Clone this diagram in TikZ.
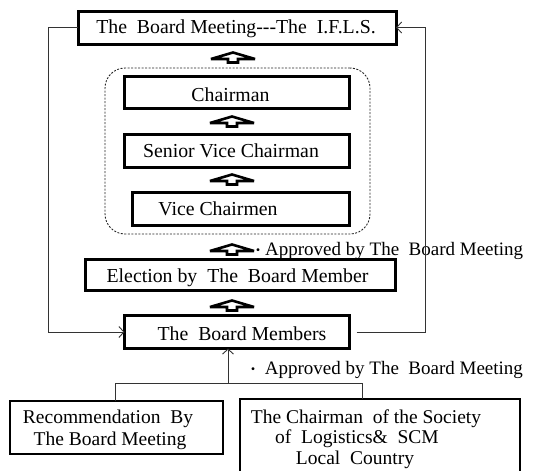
\documentclass[tikz,border=0pt]{standalone}
\usepackage{fontspec}
\setmainfont{Liberation Serif}
\newfontfamily\cjk{Noto Sans CJK JP}
\usetikzlibrary{arrows.meta,calc}
\begin{document}
\begin{tikzpicture}[x=1pt,y=-1pt,
 box/.style={draw,line width=3pt,inner sep=0pt,outer sep=0pt},
 lbox/.style={draw,line width=2.2pt,inner sep=0pt,outer sep=0pt},
 grpbox/.style={draw=black!85,line width=0.9pt,dash pattern=on 2pt off 1.5pt,rounded corners=20pt,inner sep=0pt},
 txt/.style={font=\fontsize{19.8}{21}\selectfont,inner sep=0pt,anchor=base},
 atxt/.style={font=\fontsize{19}{21}\selectfont,inner sep=0pt,anchor=base west},
 btxt/.style={font=\fontsize{19.5}{21}\selectfont,inner sep=0pt,anchor=base},
 conn/.style={line width=0.9pt,draw=black!80},
 tip/.style={-{Straight Barb[length=5pt,width=11pt,line width=0.9pt]}},
 uparr/.pic={\draw[line width=2.6pt,fill=white,line join=miter,miter limit=6] (0,0.5) -- (22,7) -- (5,7) -- (5,10.5) -- (-5,10.5) -- (-5,7) -- (-22,7) -- cycle;}
]
\useasboundingbox (0,0) rectangle (533,471);
% boxes
\node[box,minimum width=318pt,minimum height=33pt] (top) at (237,27.5) {};
\node[grpbox,minimum width=265pt,minimum height=166pt] (grp) at (237.5,151) {};
\node[box,minimum width=225pt,minimum height=32pt] (ch) at (237,92.5) {};
\node[box,minimum width=225pt,minimum height=33pt] (svc) at (237,151) {};
\node[box,minimum width=217pt,minimum height=33pt] (vc) at (241,209) {};
\node[box,minimum width=310pt,minimum height=31pt] (el) at (240.5,275) {};
\node[box,minimum width=225pt,minimum height=33pt] (bm) at (237,332) {};
\node[lbox,minimum width=213pt,minimum height=53pt] (lb) at (116.5,427.5) {};
\node[lbox,minimum width=280pt,minimum height=76pt] (rb) at (380,437) {};
% texts
\node[txt] (ttop) at (236,33) {The~~Board Meeting-{}-{}-The~~I.F.L.S.};
\node[txt] (tch) at (230.5,101) {Chairman};
\node[txt] (tsvc) at (231,157) {Senior Vice Chairman};
\node[txt] (tvc) at (218,215) {Vice Chairmen};
\node[txt] (tel) at (237.5,282) {Election by~~The~~Board Member};
\node[txt] (tbm) at (242,340) {The~~Board Members};
\node[atxt] (ap1) at (251,255) {{\cjk\fontsize{14}{14}\selectfont ・}Approved by The~~Board Meeting};
\node[atxt] (ap2) at (246,374) {{\cjk\fontsize{14}{14}\selectfont ・} Approved by The~~Board Meeting};
\node[btxt] (tl1) at (108,423) {Recommendation~~By};
\node[btxt] (tl2) at (110,445) {The Board Meeting};
\node[btxt] (tr1) at (366,423) {The Chairman~~of the Society};
\node[btxt] (tr2) at (357,443) {of~~Logistics\&~~SCM};
\node[btxt] (tr3) at (355,464) {Local~~Country};
% block arrows
\pic at (233,52) {uparr};
\pic at (232,116) {uparr};
\pic at (232,174) {uparr};
\pic at (232,244) {uparr};
\pic at (232,300) {uparr};
% connectors
\coordinate (L) at (48,0);
\coordinate (R) at (425,0);
\draw[conn,tip] (top.west) -- (top.west -| L) |- (bm.west);
\draw[conn,tip] ($(bm.east)+(7,0)$) -| (R |- top.east) -- (top.east);
\coordinate (J) at (228,383);
\coordinate (HL) at (115,383);
\coordinate (HR) at (362,383);
\draw[conn,tip] (J) -- (J |- bm.south);
\draw[conn] (HL |- lb.north) -- (HL) -- (HR) -- (HR |- rb.north);
\end{tikzpicture}
\end{document}
